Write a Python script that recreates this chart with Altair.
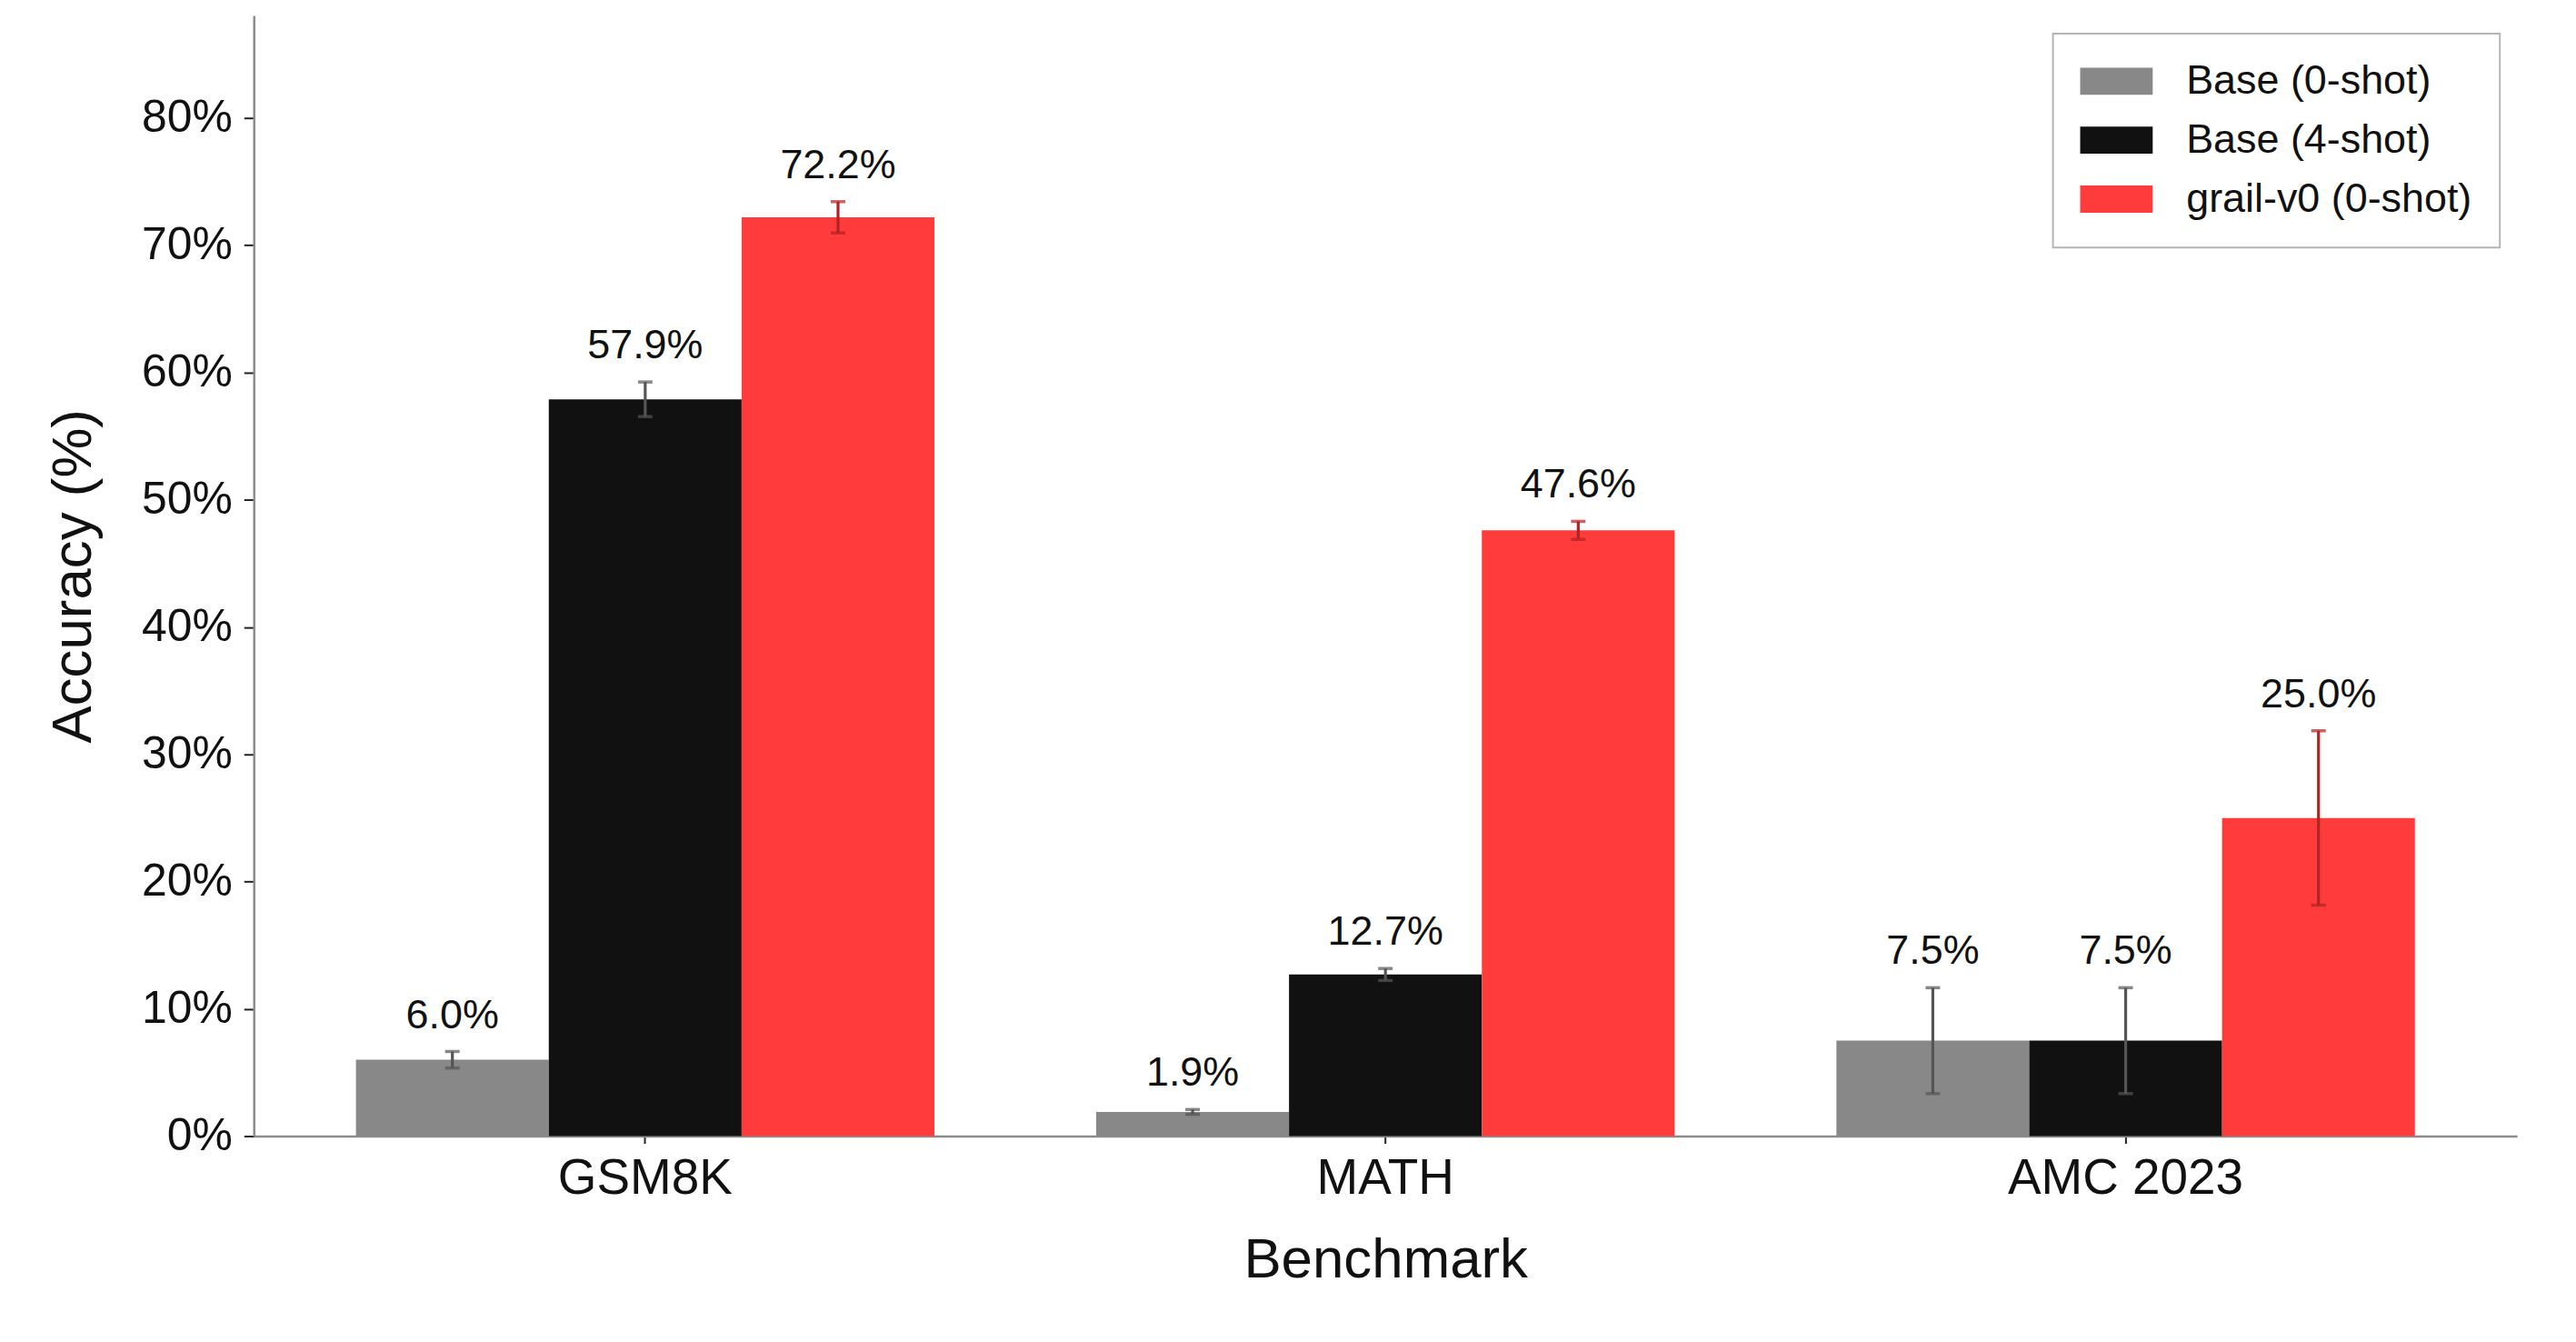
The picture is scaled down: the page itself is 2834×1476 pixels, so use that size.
import altair as alt
import pandas as pd

benchmarks = ["GSM8K", "MATH", "AMC 2023"]
models = ["Base (0-shot)", "Base (4-shot)", "grail-v0 (0-shot)"]
base0_acc = [6.0, 1.9, 7.5]
base4_acc = [57.9, 12.7, 7.5]
grail_acc = [72.2, 47.6, 25.0]
base0_err = [0.65, 0.19, 4.16]
base4_err = [1.36, 0.47, 4.16]
grail_err = [1.23, 0.71, 6.85]
bar_colors = ["#888888", "#111111", "#FF3B3B"]
y_ticks = [0, 10, 20, 30, 40, 50, 60, 70, 80]

rows = []
for m, vals, errs in zip(models, [base0_acc, base4_acc, grail_acc], [base0_err, base4_err, grail_err]):
    for b, v, e in zip(benchmarks, vals, errs):
        rows.append({"Benchmark": b, "Model": m, "acc": v, "lo": v - e, "hi": v + e,
                     "label": f"{v:.1f}%"})
df = pd.DataFrame(rows)

FONT = "Liberation Sans"

x_enc = alt.X(
    "Benchmark:N", sort=benchmarks,
    scale=alt.Scale(domain=benchmarks, paddingInner=0.2185, paddingOuter=0.138),
    axis=alt.Axis(title="Benchmark", labelAngle=0, labelFontSize=55, labelFont=FONT,
                  labelColor="#111111", labelBaseline="alphabetic", labelPadding=55,
                  labelLimit=1000,
                  tickSize=8, tickWidth=2, tickColor="#222222",
                  domainColor="#8c8c8c", domainWidth=2.5, grid=False,
                  titleFontSize=62, titleFont=FONT, titleFontWeight="normal",
                  titleColor="#111111", titleY=155, titleBaseline="alphabetic"),
)
xoff_enc = alt.XOffset("Model:N", scale=alt.Scale(domain=models, paddingInner=0, paddingOuter=0))
y_scale = alt.Scale(domain=[0, 88.06], nice=False, zero=True)
y_enc = alt.Y(
    "acc:Q", scale=y_scale,
    axis=alt.Axis(title="Accuracy (%)", values=y_ticks, labelExpr="datum.value + '%'",
                  labelFontSize=50, labelFont=FONT, labelColor="#111111", labelPadding=13,
                  tickSize=11, tickWidth=2, tickColor="#222222",
                  domainColor="#8c8c8c", domainWidth=2.5, grid=False,
                  titleFontSize=62, titleFont=FONT, titleFontWeight="normal",
                  titleColor="#111111", titleX=-180, titleY=618, titleAngle=270,
                  titleBaseline="alphabetic", titleAlign="center"),
)

base = alt.Chart(df)

bars = base.mark_bar(stroke=None).encode(
    x=x_enc,
    xOffset=xoff_enc,
    y=y_enc,
    color=alt.Color(
        "Model:N", scale=alt.Scale(domain=models, range=bar_colors),
        legend=alt.Legend(title=None, orient="none", legendX=1985, legendY=20,
                          symbolType="M-1,-0.667H2.556V0.667H-1Z", symbolSize=2025,
                          symbolStrokeWidth=0, symbolOpacity=1,
                          labelFontSize=45, labelFont=FONT, labelColor="#111111",
                          labelOffset=72, labelLimit=800, padding=30, rowPadding=19,
                          strokeColor="#b5b5b5", fillColor="#ffffff", cornerRadius=0),
    ),
)

err_color = alt.condition(alt.datum.Model == "grail-v0 (0-shot)",
                          alt.value("#B22222"), alt.value("#555555"))

err_rule = base.mark_rule(strokeWidth=3.2).encode(
    x=alt.X("Benchmark:N", sort=benchmarks),
    xOffset=alt.XOffset("Model:N"),
    y=alt.Y("lo:Q", scale=y_scale),
    y2="hi:Q",
    color=err_color,
)
cap_lo = base.mark_tick(size=16, thickness=3.5).encode(
    x=alt.X("Benchmark:N", sort=benchmarks),
    xOffset=alt.XOffset("Model:N"),
    y=alt.Y("lo:Q", scale=y_scale),
    color=err_color,
)
cap_hi = base.mark_tick(size=16, thickness=3.5).encode(
    x=alt.X("Benchmark:N", sort=benchmarks),
    xOffset=alt.XOffset("Model:N"),
    y=alt.Y("hi:Q", scale=y_scale),
    color=err_color,
)
labels = base.mark_text(fontSize=45, font=FONT, color="#111111",
                        baseline="alphabetic", align="center", dy=-26).encode(
    x=alt.X("Benchmark:N", sort=benchmarks),
    xOffset=alt.XOffset("Model:N"),
    y=alt.Y("hi:Q", scale=y_scale),
    text="label:N",
)

chart = alt.layer(bars, err_rule, cap_lo, cap_hi, labels).properties(
    width=2497, height=1236,
    padding={"left": 272, "top": 7, "right": 57, "bottom": 217},
    autosize=alt.AutoSizeParams(type="none"),
    background="#ffffff",
).configure_view(stroke=None).configure_legend(strokeWidth=2)

chart.save("out.html", embed_options={"renderer": "svg", "actions": False})
